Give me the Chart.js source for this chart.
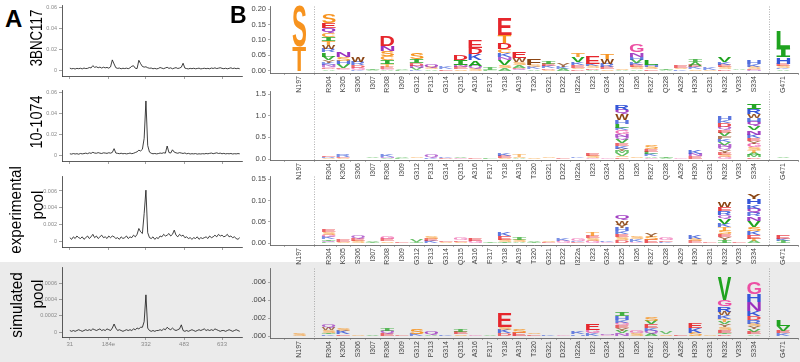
<!DOCTYPE html>
<html><head><meta charset="utf-8">
<script src="https://cdn.jsdelivr.net/npm/chart.js@4/dist/chart.umd.min.js"></script>
<style>
html,body{margin:0;padding:0;background:#fff;}
#root{position:relative;width:800px;height:362px;overflow:hidden;background:#fff;font-family:"Liberation Sans",Arial,sans-serif;}
.band{position:absolute;left:0;top:262px;width:800px;height:100px;background:#ebebeb;}
canvas{position:absolute;}
.lab{position:absolute;white-space:nowrap;color:#000;line-height:1;transform-origin:center center;}
.big{position:absolute;font-weight:bold;color:#000;line-height:1;}
</style></head>
<body><div id="root"><div class="band"></div></div>
<script>
// ---------------- DATA ----------------
// Panel A: residue positions and per-residue values
const positions = [31,38,45,52,59,66,73,80,87,94,101,108,115,122,129,136,143,150,157,164,171,178,185,192,199,206,213,220,227,234,241,248,255,262,269,276,283,290,297,304,311,318,325,332,339,346,353,360,367,374,381,388,395,402,409,416,423,430,437,444,451,458,465,472,479,486,493,500,507,514,521,528,535,542,549,556,563,570,577,584,591,598,605,612,619,626,633,640,647,654,661,668,675,682,689,696,703];
const series3BNC117 = [.0018,.0012,.0015,.0010,.0016,.0013,.0017,.0011,.0019,.0014,.0016,.0024,.0020,.0042,.0026,.0031,.0022,.0028,.0019,.0027,.0021,.0025,.0018,.0030,.0097,.0058,.0022,.0016,.0019,.0012,.0017,.0014,.0018,.0013,.0021,.0036,.0041,.0017,.0014,.0093,.0061,.0034,.0028,.0031,.0022,.0017,.0019,.0012,.0016,.0011,.0015,.0024,.0018,.0013,.0020,.0026,.0016,.0021,.0012,.0018,.0023,.0015,.0019,.0027,.0065,.0018,.0014,.0011,.0016,.0013,.0017,.0012,.0015,.0018,.0011,.0014,.0017,.0013,.0016,.0012,.0019,.0015,.0021,.0014,.0018,.0022,.0016,.0013,.0017,.0012,.0016,.0021,.0014,.0018,.0013,.0017,.0012];
const series10_1074 = [.0012,.0009,.0014,.0010,.0013,.0008,.0015,.0011,.0014,.0018,.0013,.0021,.0016,.0026,.0019,.0017,.0023,.0018,.0015,.0021,.0019,.0016,.0022,.0018,.0025,.0061,.0019,.0016,.0013,.0017,.0012,.0015,.0011,.0014,.0019,.0013,.0017,.0024,.0031,.0046,.0039,.0055,.0160,.0517,.0092,.0028,.0017,.0012,.0015,.0011,.0014,.0019,.0016,.0022,.0018,.0086,.0024,.0019,.0050,.0028,.0021,.0017,.0023,.0019,.0015,.0020,.0012,.0016,.0010,.0013,.0011,.0014,.0009,.0012,.0010,.0013,.0011,.0015,.0012,.0016,.0019,.0013,.0017,.0021,.0015,.0018,.0012,.0016,.0011,.0014,.0012,.0015,.0010,.0013,.0011,.0014,.0012];
const seriesExperimental = [.0004,.0002,.0005,.0003,.0006,.0004,.0003,.0005,.0002,.0004,.0006,.0003,.0005,.0008,.0004,.0006,.0003,.0005,.0007,.0004,.0005,.0003,.0006,.0004,.0006,.0005,.0003,.0004,.0002,.0005,.0003,.0004,.0006,.0003,.0005,.0004,.0007,.0005,.0008,.0015,.0011,.0009,.0033,.0061,.0010,.0004,.0003,.0005,.0002,.0004,.0003,.0006,.0005,.0008,.0006,.0007,.0009,.0006,.0008,.0013,.0007,.0005,.0008,.0006,.0007,.0004,.0005,.0003,.0004,.0002,.0004,.0003,.0005,.0002,.0004,.0003,.0004,.0005,.0003,.0006,.0004,.0005,.0007,.0005,.0008,.0006,.0007,.0005,.0006,.0008,.0005,.0006,.0004,.0005,.0003,.0002,.0004];
const seriesSimulated = [.00002,.00001,.00002,.00001,.00002,.00003,.00002,.00001,.00002,.00003,.00002,.00003,.00002,.00004,.00003,.00002,.00003,.00004,.00002,.00003,.00002,.00004,.00003,.00002,.00005,.00010,.00005,.00002,.00003,.00002,.00001,.00002,.00003,.00002,.00003,.00002,.00004,.00003,.00005,.00004,.00006,.00006,.00013,.00046,.00005,.00002,.00001,.00002,.00001,.00002,.00002,.00003,.00002,.00004,.00003,.00006,.00004,.00003,.00005,.00003,.00002,.00003,.00004,.00009,.00002,.00001,.00002,.00001,.00002,.00003,.00002,.00001,.00002,.00003,.00002,.00003,.00004,.00002,.00003,.00002,.00003,.00002,.00004,.00003,.00002,.00001,.00002,.00002,.00001,.00002,.00003,.00002,.00001,.00002,.00003,.00002,.00001];
const posTickValues = [31,184,332,483,633];
const posTickLabels = ['31','184e','332','483','633'];
const yTicksA12 = [0,0.02,0.04,0.06], yLabelsA12 = ['0','0.02','0.04','0.06'];
const yTicksA3 = [0,0.002,0.004,0.006], yLabelsA3 = ['0','0.002','0.004','0.006'];
const yTicksA4 = [0,0.0002,0.0004,0.0006], yLabelsA4 = ['0','0.0002','0.0004','0.0006'];

// Panel B: sites ('' = separator) and logo columns (letters listed top -> bottom, with heights)
const sites = ['N197','','R304','K305','S306','I307','R308','I309','G312','P313','G314','Q315','A316','F317','Y318','A319','T320','G321','D322','I322a','I323','G324','D325','I326','R327','Q328','A329','H330','C331','N332','V333','S334','','G471'];
const logo3BNC117 = [
 [['S',.132],['T',.080]], [],
 [['S',.028],['E',.018],['Q',.016],['C',.013],['I',.013],['T',.012],['W',.014],['R',.010],['L',.014],['V',.012],['Y',.008],['K',.006],['N',.006],['G',.005],['D',.004],['A',.005]],
 [['N',.017],['S',.012],['H',.012],['V',.012],['E',.004],['G',.003],['A',.002]],
 [['W',.016],['R',.010],['D',.008],['G',.006],['K',.004]],
 [['I',.004],['V',.003]],
 [['D',.031],['N',.016],['S',.016],['C',.013],['I',.014],['T',.008],['E',.006],['G',.004],['A',.003]],
 [['V',.003],['L',.003]],
 [['S',.021],['I',.013],['D',.008],['N',.007],['V',.006],['K',.004]],
 [['Q',.012],['S',.006],['A',.005]],
 [['K',.006],['E',.006]],
 [['D',.016],['I',.015],['N',.007],['E',.007],['S',.006]],
 [['E',.025],['D',.019],['K',.019],['A',.018],['Q',.010],['S',.007]],
 [['I',.008],['L',.004]],
 [['E',.052],['T',.026],['D',.021],['C',.0135],['K',.0125],['N',.010],['V',.016],['S',.010],['A',.008]],
 [['E',.021],['W',.0135],['S',.010],['A',.008],['D',.005],['Q',.005]],
 [['F',.020],['S',.006],['K',.006],['A',.006]],
 [['I',.010],['E',.008],['K',.007],['D',.004],['S',.004]],
 [['Y',.010],['K',.006],['A',.007]],
 [['T',.0125],['V',.016],['K',.010],['E',.008],['S',.005],['D',.005]],
 [['E',.023],['K',.008],['S',.006],['D',.005],['A',.004]],
 [['T',.016],['W',.016],['R',.010],['E',.007],['S',.005]],
 [['S',.004],['A',.003]],
 [['G',.026],['N',.0135],['H',.010],['V',.010],['K',.008],['E',.007],['S',.006],['A',.005]],
 [['L',.018],['H',.008],['S',.007],['E',.005]],
 [['I',.005],['A',.004]],
 [['E',.008],['S',.005],['K',.005]],
 [['I',.010],['A',.012],['E',.006],['K',.006],['S',.005]],
 [['K',.006],['S',.003]],
 [['V',.018],['K',.010],['E',.006],['S',.006],['D',.006]],
 [['A',.003],['I',.002]],
 [['H',.0125],['K',.010],['S',.006],['E',.004],['N',.003]],
 [],
 [['L',.052],['I',.031],['H',.021],['E',.007],['S',.006],['K',.005],['A',.005]]
];
const logo10_1074 = [
 [], [],
 [['E',.04],['R',.03],['S',.02]],
 [['R',.05],['E',.03],['S',.02]],
 [['S',.012],['E',.008]],
 [['V',.025],['I',.015]],
 [['K',.05],['N',.03],['V',.02]],
 [['V',.03],['L',.02]],
 [['S',.015],['G',.015]],
 [['Q',.06],['K',.04]],
 [['K',.03],['D',.02]],
 [['V',.03],['G',.03]],
 [['E',.02]],
 [['L',.02]],
 [['K',.06],['E',.05],['S',.03]],
 [['T',.05],['S',.03],['A',.02]],
 [['S',.02],['E',.01]],
 [['S',.015],['A',.015]],
 [['E',.02]],
 [['K',.025],['H',.015]],
 [['E',.06],['S',.05],['G',.03]],
 [['G',.02],['N',.01]],
 [['R',.12],['Q',.10],['W',.14],['H',.08],['L',.10],['K',.06],['G',.08],['N',.07],['Q',.06],['V',.08],['E',.06],['K',.07],['Y',.05],['M',.05],['V',.06],['S',.04],['E',.04]],
 [['S',.025],['E',.015]],
 [['S',.08],['E',.06],['L',.06],['K',.05],['A',.03],['G',.03]],
 [['I',.04],['V',.03]],
 [['G',.02],['E',.01]],
 [['K',.08],['N',.06],['E',.06]],
 [['S',.01]],
 [['H',.08],['K',.07],['D',.08],['Q',.07],['E',.07],['V',.08],['F',.06],['K',.07],['V',.07],['N',.06],['Q',.06],['Y',.06],['E',.05],['S',.05],['G',.05]],
 [['A',.005]],
 [['I',.11],['R',.12],['W',.10],['H',.08],['Q',.10],['V',.10],['N',.10],['K',.08],['E',.07],['Y',.06],['G',.08],['S',.07],['T',.06],['A',.05],['M',.05],['D',.04]],
 [],
 [['V',.03],['I',.015]]
];
const logoExperimental = [
 [], [],
 [['E',.006],['S',.006],['G',.005],['K',.005],['I',.004],['Q',.003],['L',.0025]],
 [['E',.005],['S',.004]],
 [['Q',.006],['E',.005],['S',.0055]],
 [['V',.004],['I',.003]],
 [['G',.007],['E',.005],['S',.0045]],
 [['E',.003]],
 [['V',.005],['I',.003]],
 [['S',.006],['E',.005],['K',.006]],
 [['E',.003],['S',.003]],
 [['G',.005],['E',.004],['S',.004]],
 [['E',.007],['G',.006]],
 [['I',.002]],
 [['K',.008],['E',.008],['S',.005],['I',.004]],
 [['I',.006],['S',.005],['A',.004]],
 [['V',.004],['I',.003]],
 [['S',.003],['E',.003]],
 [['K',.005],['G',.005]],
 [['G',.005],['K',.003],['E',.003]],
 [['T',.008],['E',.006],['S',.006],['G',.006]],
 [['K',.004],['G',.004]],
 [['Q',.010],['W',.010],['Y',.008],['H',.008],['K',.007],['E',.007],['S',.007],['D',.007]],
 [['S',.006],['K',.005],['G',.004]],
 [['Y',.008],['S',.008],['E',.008]],
 [['G',.006],['E',.004],['K',.004]],
 [],
 [['K',.008],['S',.006],['E',.005]],
 [['E',.002]],
 [['W',.012],['E',.010],['R',.010],['Q',.008],['V',.012],['K',.008],['T',.008],['S',.008],['E',.007],['Y',.007],['I',.0075]],
 [['E',.003]],
 [['Y',.013],['H',.012],['K',.010],['Q',.010],['R',.008],['N',.010],['V',.015],['S',.010],['K',.009],['E',.008],['T',.006],['A',.005]],
 [],
 [['E',.008],['K',.005],['I',.006]]
];
const logoSimulated = [
 [['S',.0003]], [],
 [['Q',.0003],['W',.0003],['S',.0003],['I',.0002],['K',.0002]],
 [['S',.0003],['K',.0004],['E',.0002]],
 [['S',.0001]],
 [['V',.0002]],
 [['I',.0003],['Q',.0003],['E',.0003]],
 [['E',.0001]],
 [['S',.0005],['K',.00025]],
 [['Q',.0004],['A',.0002]],
 [['K',.0002]],
 [['I',.0003],['E',.0003],['S',.0002]],
 [['G',.0002]],
 [['V',.0001]],
 [['E',.0016],['S',.0003],['K',.0004],['D',.0003]],
 [['S',.0004],['E',.0004]],
 [['S',.0002],['E',.0002]],
 [['K',.0002]],
 [['G',.0001]],
 [['K',.0003],['H',.0002]],
 [['E',.0007],['G',.0004],['K',.0003]],
 [['N',.0002],['G',.0001]],
 [['I',.0004],['H',.0004],['K',.0003],['G',.0003],['E',.0003],['Y',.0003],['V',.0003],['N',.0003]],
 [['G',.0003],['S',.0003]],
 [['S',.0004],['V',.0004],['E',.0004],['K',.0003],['Q',.0003],['A',.0003]],
 [['V',.0002],['S',.0002]],
 [['E',.0002]],
 [['E',.0005],['K',.0005],['S',.0004]],
 [['S',.0001]],
 [['V',.0025],['G',.0007],['R',.0006],['W',.0004],['K',.0004],['T',.0003],['V',.0003],['Y',.0003],['S',.0003],['E',.0003],['I',.0002],['D',.0002]],
 [],
 [['G',.0013],['H',.0009],['N',.0010],['K',.0006],['D',.0004],['R',.0004],['S',.0003],['Y',.0003],['V',.0003],['E',.0003],['A',.0002]],
 [],
 [['L',.0007],['V',.0005],['E',.0003],['K',.0003]]
];
const yTicksB1 = [0,0.05,0.10,0.15,0.20], yLabelsB1 = ['0.00','0.05','0.10','0.15','0.20'];
const yTicksB2 = [0,0.5,1.0,1.5], yLabelsB2 = ['0.0','0.5','1.0','1.5'];
const yTicksB3 = [0,0.05,0.10,0.15], yLabelsB3 = ['0.00','0.05','0.10','0.15'];
const yTicksB4 = [0,0.002,0.004,0.006], yLabelsB4 = ['.000','.002','.004','.006'];

const letterColors = {S:'#f7931e',T:'#f7931e',C:'#f7931e',G:'#ec4fa3',N:'#9a30be',Q:'#9a30be',P:'#9a30be',
  D:'#e6262c',E:'#e6262c',K:'#3556d8',R:'#3556d8',H:'#3556d8',A:'#1fa31f',V:'#1fa31f',L:'#1fa31f',I:'#1fa31f',M:'#1fa31f',
  W:'#8b4513',F:'#8b4513',Y:'#8b4513'};

// ---------------- DRAWING ----------------
Chart.defaults.font.family = '"Liberation Sans", Arial, sans-serif';
const root = document.getElementById('root');
function mk(left, top, w, h){
  const c = document.createElement('canvas');
  c.width = w; c.height = h; c.style.left = left+'px'; c.style.top = top+'px';
  c.style.width = w+'px'; c.style.height = h+'px';
  root.appendChild(c); return c;
}
function vlabel(text, cx, cy, size, sx){
  const d = document.createElement('div'); d.className='lab'; d.textContent = text;
  d.style.fontSize = size+'px'; d.style.left = cx+'px'; d.style.top = cy+'px';
  d.style.transform = 'translate(-50%,-50%) rotate(-90deg) scaleX('+sx+')';
  root.appendChild(d);
}
function big(text, left, top, size){
  const d = document.createElement('div'); d.className='big'; d.textContent=text;
  d.style.left=left+'px'; d.style.top=top+'px'; d.style.fontSize=size+'px'; root.appendChild(d);
}

function lineChart(cfg){
  const c = mk(34, cfg.top, 210, cfg.h);
  new Chart(c, {
    type:'line',
    data:{datasets:[{data: positions.map((p,i)=>({x:p, y:cfg.values[i]})), borderColor:'#111', borderWidth:0.8, pointRadius:0, tension:0, fill:false}]},
    options:{
      animation:false, responsive:false, devicePixelRatio:1,
      layout:{padding:{top:cfg.padTop, right:2, left:0, bottom:0}},
      plugins:{legend:{display:false}, tooltip:{enabled:false}},
      scales:{
        x:{type:'linear', min:0, max:712,
          afterBuildTicks:s=>{ s.ticks = posTickValues.map(v=>({value:v})); },
          afterFit:s=>{ s.height = cfg.xh; },
          grid:{display:true, drawOnChartArea:false, drawTicks:true, tickLength:3, color:'#666', lineWidth:0.6},
          border:{display:true, color:'#333', width:0.8},
          ticks:{display:cfg.showX, autoSkip:false, maxRotation:0, padding:1, color:'#8a8a8a', font:{size:6}, callback:(v,i)=>posTickLabels[i]}
        },
        y:{min:cfg.ymin, max:cfg.ymax,
          afterBuildTicks:s=>{ s.ticks = cfg.yt.map(v=>({value:v})); },
          afterFit:s=>{ s.width = 28; },
          grid:{display:true, drawOnChartArea:false, drawTicks:true, tickLength:3, color:'#666', lineWidth:0.6},
          border:{display:true, color:'#333', width:0.8},
          ticks:{padding:2, color:'#8a8a8a', font:{size:5.5}, callback:(v,i)=>cfg.yl[i]}
        }
      }
    }
  });
}

function drawLetter(ctx, ch, x, y, w, h, color, alpha){
  ctx.save();
  ctx.font = ch === 'I' ? 'bold 100px "DejaVu Sans Mono", monospace' : 'bold 100px "Liberation Sans", Arial, sans-serif';
  ctx.textAlign = 'left'; ctx.textBaseline = 'alphabetic';
  const m = ctx.measureText(ch);
  const gl = m.actualBoundingBoxLeft, gr = m.actualBoundingBoxRight;
  const ga = m.actualBoundingBoxAscent, gd = m.actualBoundingBoxDescent;
  ctx.translate(x, y);
  ctx.scale(w/(gl+gr), h/(ga+gd));
  ctx.globalAlpha = alpha;
  ctx.fillStyle = color;
  ctx.fillText(ch, gl, ga);
  ctx.restore();
}

const logoPlugin = {
  id:'logoLetters',
  beforeDatasetsDraw(chart){
    const ctx = chart.ctx, xs = chart.scales.x, a = chart.chartArea;
    ctx.save(); ctx.strokeStyle = '#9a9a9a'; ctx.lineWidth = 0.8; ctx.setLineDash([1,1.5]);
    sites.forEach((s,i)=>{ if(s===''){ const px = Math.round(xs.getPixelForValue(i))+0.5; ctx.beginPath(); ctx.moveTo(px,a.top); ctx.lineTo(px,a.bottom); ctx.stroke(); } });
    ctx.restore();
  },
  afterDatasetsDraw(chart){
    const ctx = chart.ctx;
    chart.data.datasets.forEach((ds, di)=>{
      const meta = chart.getDatasetMeta(di);
      meta.data.forEach((el, i)=>{
        const L = ds.letters[i]; if(!L) return;
        const p = el.getProps(['x','y','base','width'], true);
        const top = Math.min(p.y, p.base), h = Math.abs(p.base - p.y);
        if (h <= 0.05) return;
        const alpha = h >= 5 ? 1 : 0.4 + 0.6*h/5;
        drawLetter(ctx, L, p.x - p.width/2, top, p.width, h, letterColors[L] || '#555', alpha);
      });
    });
  }
};

function logoChart(cfg){
  const c = mk(240, cfg.top, 560, cfg.h);
  const cols = cfg.logo.map(col => col.slice().reverse());
  const maxL = Math.max(...cols.map(c=>c.length));
  const datasets = [];
  for(let k=0;k<maxL;k++){
    datasets.push({
      data: cols.map((col,i)=>({x:i, y: col[k] ? col[k][1] : null})),
      letters: cols.map(col=> col[k] ? col[k][0] : null),
      backgroundColor:'rgba(0,0,0,0)', borderWidth:0, stack:'logo',
      barPercentage:0.93, categoryPercentage:1
    });
  }
  new Chart(c, {
    type:'bar',
    data:{datasets},
    plugins:[logoPlugin],
    options:{
      animation:false, responsive:false, devicePixelRatio:1,
      layout:{padding:{top:cfg.padTop, right:2, left:0, bottom:0}},
      plugins:{legend:{display:false}, tooltip:{enabled:false}},
      scales:{
        x:{type:'linear', min:-2, max:34, offset:false,
          afterBuildTicks:s=>{ s.ticks = sites.map((n,i)=>({value:i, n})).filter(t=>t.n!=='').map(t=>({value:t.value})); },
          afterFit:s=>{ s.height = cfg.xh; },
          grid:{display:true, drawOnChartArea:false, drawTicks:true, tickLength:2, color:'#777', lineWidth:0.6},
          border:{display:true, color:'#555', width:0.8},
          ticks:{autoSkip:false, minRotation:90, maxRotation:90, padding:1, color:'#444', font:{size:7}, callback:(v)=>sites[v]}
        },
        y:{stacked:true, min:cfg.ymin, max:cfg.ymax,
          afterBuildTicks:s=>{ s.ticks = cfg.yt.map(v=>({value:v})); },
          afterFit:s=>{ s.width = 30; },
          grid:{display:true, drawOnChartArea:false, drawTicks:true, tickLength:2, color:'#777', lineWidth:0.6},
          border:{display:true, color:'#555', width:0.8},
          ticks:{padding:2, color:'#444', font:{size:7.5}, callback:(v,i)=>cfg.yl[i]}
        }
      }
    }
  });
}

// Panel A
lineChart({top:0, h:86, padTop:5, xh:10, showX:false, values:series3BNC117, ymin:-0.0057, ymax:0.0619, yt:yTicksA12, yl:yLabelsA12});
lineChart({top:85, h:86, padTop:5, xh:10, showX:false, values:series10_1074, ymin:-0.0057, ymax:0.0619, yt:yTicksA12, yl:yLabelsA12});
lineChart({top:170, h:87, padTop:6, xh:10, showX:false, values:seriesExperimental, ymin:-0.00072, ymax:0.0078, yt:yTicksA3, yl:yLabelsA3});
lineChart({top:262, h:88, padTop:5, xh:13, showX:true, values:seriesSimulated, ymin:-0.00006, ymax:0.0008, yt:yTicksA4, yl:yLabelsA4});

// Panel B
logoChart({top:0, h:95, padTop:4, xh:22, logo:logo3BNC117, ymin:-0.007, ymax:0.2085, yt:yTicksB1, yl:yLabelsB1});
logoChart({top:85, h:96, padTop:3, xh:21, logo:logo10_1074, ymin:-0.022, ymax:1.56, yt:yTicksB2, yl:yLabelsB2});
logoChart({top:170, h:96, padTop:4, xh:21, logo:logoExperimental, ymin:-0.0038, ymax:0.156, yt:yTicksB3, yl:yLabelsB3});
logoChart({top:262, h:100, padTop:4, xh:24, logo:logoSimulated, ymin:-0.0002, ymax:0.0075, yt:yTicksB4, yl:yLabelsB4});

// Labels
big('A', 5, 7, 24);
big('B', 230, 4, 23);
vlabel('3BNC117', 36, 38, 17, 0.78);
vlabel('10-1074', 36, 122, 17, 0.85);
vlabel('experimental', 15, 210, 17, 0.9);
vlabel('pool', 37, 205, 17, 0.9);
vlabel('simulated', 16, 305, 17, 0.9);
vlabel('pool', 37, 294, 17, 0.9);
</script>
</body></html>
